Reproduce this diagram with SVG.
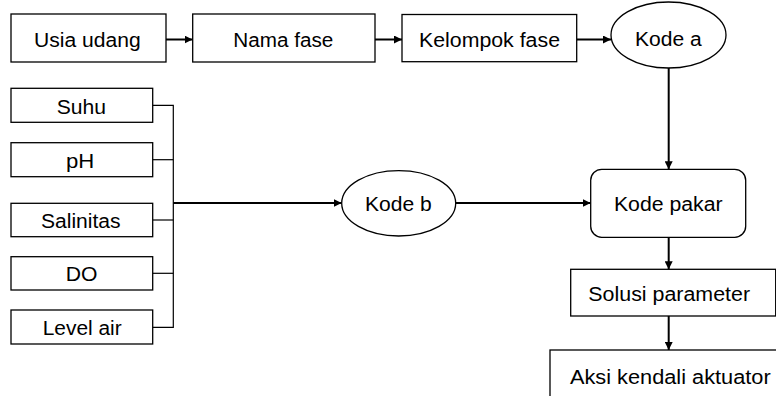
<svg xmlns="http://www.w3.org/2000/svg" width="776" height="396" viewBox="0 0 776 396">
  <style>
    .box { fill: #ffffff; stroke: #000000; stroke-width: 1.3; }
    .lbl { font-family: "Liberation Sans", Arial, sans-serif; font-size: 19.5px; fill: #000000; text-anchor: middle; }
    .flow { fill: none; stroke: #000000; stroke-width: 2; }
    .bus { fill: none; stroke: #000000; stroke-width: 1.2; }
  </style>
  <defs>
    <marker id="arrow" viewBox="0 0 10 10" refX="10" refY="5" markerWidth="4" markerHeight="4" orient="auto" markerUnits="strokeWidth">
      <path d="M0,0 L10,5 L0,10 z" fill="#000000"/>
    </marker>
  </defs>
  <rect width="776" height="396" fill="#ffffff"/>

  <!-- connectors -->
  <g id="connectors">
    <line class="flow" x1="166" y1="39.5" x2="192.5" y2="39.5" marker-end="url(#arrow)"/>
    <line class="flow" x1="375" y1="39.5" x2="402" y2="39.5" marker-end="url(#arrow)"/>
    <line class="flow" x1="577" y1="39.5" x2="611" y2="39.5" marker-end="url(#arrow)"/>
    <line class="flow" x1="668.7" y1="68" x2="668.7" y2="169.3" marker-end="url(#arrow)"/>
    <line class="flow" x1="455.7" y1="203" x2="590.7" y2="203" marker-end="url(#arrow)"/>
    <line class="flow" x1="668.7" y1="237.3" x2="668.7" y2="269.3" marker-end="url(#arrow)"/>
    <line class="flow" x1="668.7" y1="316" x2="668.7" y2="350" marker-end="url(#arrow)"/>
    <!-- sensor bus -->
    <polyline class="bus" points="152.7,105.3 173.3,105.3 173.3,327.3 152.7,327.3"/>
    <line class="bus" x1="152.7" y1="159.7" x2="173.3" y2="159.7"/>
    <line class="bus" x1="152.7" y1="220" x2="173.3" y2="220" stroke-width="1.6"/>
    <line class="bus" x1="152.7" y1="273.3" x2="173.3" y2="273.3"/>
    <line class="flow" x1="173.3" y1="203" x2="341.7" y2="203" marker-end="url(#arrow)"/>
  </g>

  <g id="usia-udang">
    <rect class="box" x="11" y="14" width="155" height="48"/>
    <text class="lbl" x="87.3" y="46.5" textLength="106.7" lengthAdjust="spacingAndGlyphs">Usia udang</text>
  </g>
  <g id="nama-fase">
    <rect class="box" x="192.7" y="14" width="182.3" height="48"/>
    <text class="lbl" x="283.3" y="46.5" textLength="100" lengthAdjust="spacingAndGlyphs">Nama fase</text>
  </g>
  <g id="kelompok-fase">
    <rect class="box" x="402" y="14.5" width="174.7" height="47.2"/>
    <text class="lbl" x="489.5" y="46.5" textLength="141" lengthAdjust="spacingAndGlyphs">Kelompok fase</text>
  </g>
  <g id="kode-a">
    <ellipse class="box" cx="668.5" cy="35" rx="57.5" ry="33"/>
    <text class="lbl" x="668.3" y="46" textLength="66.7" lengthAdjust="spacingAndGlyphs">Kode a</text>
  </g>

  <g id="suhu">
    <rect class="box" x="11" y="88.3" width="141.7" height="34"/>
    <text class="lbl" x="81.3" y="113.5" textLength="49.3" lengthAdjust="spacingAndGlyphs">Suhu</text>
  </g>
  <g id="ph">
    <rect class="box" x="11" y="142.7" width="141.7" height="34"/>
    <text class="lbl" x="80.2" y="167.5" textLength="28.3" lengthAdjust="spacingAndGlyphs">pH</text>
  </g>
  <g id="salinitas">
    <rect class="box" x="11" y="203.3" width="141.7" height="33.4"/>
    <text class="lbl" x="80.8" y="228" textLength="79.7" lengthAdjust="spacingAndGlyphs">Salinitas</text>
  </g>
  <g id="do">
    <rect class="box" x="11" y="256.7" width="141.7" height="33.3"/>
    <text class="lbl" x="81.5" y="281" textLength="31.7" lengthAdjust="spacingAndGlyphs">DO</text>
  </g>
  <g id="level-air">
    <rect class="box" x="11" y="310" width="141.7" height="34"/>
    <text class="lbl" x="82.2" y="334.7" textLength="79" lengthAdjust="spacingAndGlyphs">Level air</text>
  </g>

  <g id="kode-b">
    <ellipse class="box" cx="398.7" cy="203.3" rx="57" ry="32.7"/>
    <text class="lbl" x="398.3" y="211" textLength="66.7" lengthAdjust="spacingAndGlyphs">Kode b</text>
  </g>
  <g id="kode-pakar">
    <rect class="box" x="590.7" y="169.3" width="155" height="68" rx="11" ry="11"/>
    <text class="lbl" x="668.3" y="211" textLength="108.7" lengthAdjust="spacingAndGlyphs">Kode pakar</text>
  </g>
  <g id="solusi-parameter">
    <rect class="box" x="570.7" y="269.3" width="205" height="46.7"/>
    <text class="lbl" x="669.2" y="300.5" textLength="161.7" lengthAdjust="spacingAndGlyphs">Solusi parameter</text>
  </g>
  <g id="aksi-kendali">
    <rect class="box" x="550" y="350" width="240" height="60"/>
    <text class="lbl" x="670.3" y="384" textLength="200.7" lengthAdjust="spacingAndGlyphs">Aksi kendali aktuator</text>
  </g>
</svg>
